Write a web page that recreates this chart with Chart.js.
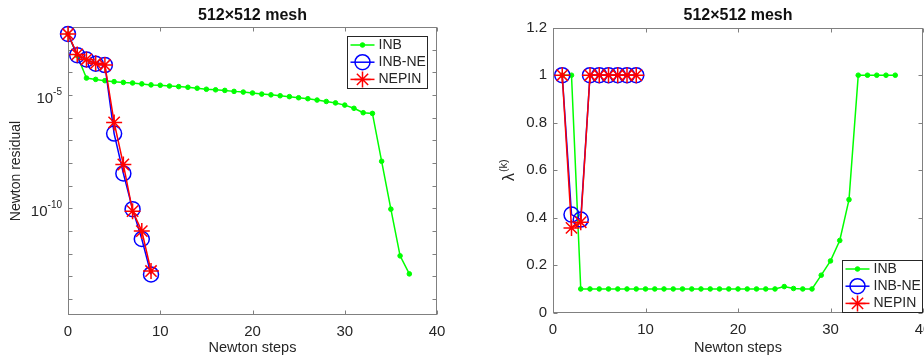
<!DOCTYPE html>
<html>
<head>
<meta charset="utf-8">
<script src="https://cdn.jsdelivr.net/npm/chart.js@4.4.1/dist/chart.umd.min.js"></script>
<style>
  html, body { margin: 0; padding: 0; background: #fff; overflow: hidden; width: 924px; height: 360px; }
  #left { position: absolute; left: 0; top: 0; }
  #right { position: absolute; left: 462px; top: 0; }
</style>
</head>
<body>
<canvas id="left" width="462" height="360"></canvas>
<canvas id="right" width="480" height="360"></canvas>
<script>
const TITLE = '512\u00d7512 mesh';
const LABELS = ['INB', 'INB-NE', 'NEPIN'];

// left panel: Newton residual (log scale)
const resStepsINB = [0, 1, 2, 3, 4, 5, 6, 7, 8, 9, 10, 11, 12, 13, 14, 15, 16, 17, 18, 19,
  20, 21, 22, 23, 24, 25, 26, 27, 28, 29, 30, 31, 32, 33, 34, 35, 36, 37];
const resINB = [4.9e-3, 5.5e-4, 5.6e-5, 4.9e-5, 4.3e-5, 3.9e-5, 3.6e-5, 3.4e-5, 3.1e-5, 2.8e-5,
  2.7e-5, 2.5e-5, 2.35e-5, 2.2e-5, 2.0e-5, 1.8e-5, 1.7e-5, 1.6e-5, 1.45e-5, 1.35e-5,
  1.23e-5, 1.1e-5, 1.02e-5, 9.3e-6, 8.5e-6, 7.6e-6, 6.9e-6, 6.0e-6, 5.2e-6, 4.5e-6,
  3.6e-6, 2.6e-6, 1.66e-6, 1.55e-6, 1.2e-8, 9.3e-11, 8.1e-13, 1.3e-13];
const resStepsNE = [0, 1, 2, 3, 4, 5, 6, 7, 8, 9];
const resINBNE = [4.9e-3, 5.75e-4, 3.7e-4, 2.4e-4, 2.1e-4, 2.0e-7, 3.5e-9, 9.3e-11, 4.5e-12, 1.23e-13];
const resNEPIN = [4.9e-3, 6.2e-4, 3.7e-4, 2.5e-4, 2.1e-4, 6.2e-7, 8.7e-9, 7.6e-11, 1.0e-11, 1.74e-13];

// right panel: damping factor lambda^(k)
const lamStepsINB = [1, 2, 3, 4, 5, 6, 7, 8, 9, 10, 11, 12, 13, 14, 15, 16, 17, 18, 19,
  20, 21, 22, 23, 24, 25, 26, 27, 28, 29, 30, 31, 32, 33, 34, 35, 36, 37];
const lamINB = [1, 1, 0.1, 0.1, 0.1, 0.1, 0.1, 0.1, 0.1, 0.1, 0.1, 0.1, 0.1, 0.1, 0.1, 0.1, 0.1, 0.1, 0.1,
  0.1, 0.1, 0.1, 0.1, 0.1, 0.11, 0.102, 0.1, 0.1, 0.158, 0.218, 0.304, 0.476, 1, 1, 1, 1, 1];
const lamStepsNE = [1, 2, 3, 4, 5, 6, 7, 8, 9];
const lamINBNE = [1, 0.413, 0.392, 1, 1, 1, 1, 1, 1];
const lamNEPIN = [1, 0.357, 0.381, 1, 1, 1, 1, 1, 1];

const xTicks = [0, 10, 20, 30, 40];
const resDecades = [-14, -13, -12, -11, -10, -9, -8, -7, -6, -5, -4, -3, -2];
const resLabeled = [-5, -10];
const lamTicks = [0, 0.2, 0.4, 0.6, 0.8, 1, 1.2];

const INK = '#262626';
const AXIS = '#808080';
const FONT = '"Liberation Sans", Arial, Helvetica, sans-serif';
Chart.defaults.font.family = FONT;
Chart.defaults.color = INK;

const styles = [
  {color: '#00ff00', pointStyle: 'circle', radius: 2.3, fill: true},
  {color: '#0000ff', pointStyle: 'circle', radius: 7.5, fill: false},
  {color: '#ff0000', pointStyle: 'star', radius: 8, fill: false},
];

function dataset(i, xs, ys) {
  const s = styles[i];
  return {
    label: LABELS[i],
    data: xs.map((x, k) => ({x: x, y: ys[k]})),
    borderColor: s.color,
    borderWidth: 1.5,
    pointStyle: s.pointStyle,
    pointRadius: s.radius,
    pointBackgroundColor: s.fill ? s.color : 'rgba(0,0,0,0)',
    pointBorderColor: s.color,
    pointBorderWidth: s.fill ? 1 : 1.5,
    order: 3 - i,
    clip: false,
    tension: 0
  };
}

// box round the axes with inward tick marks, like matlab
const axesBox = {
  id: 'axesBox',
  beforeDatasetsDraw(chart) {
    const {ctx, chartArea: a, scales: {x, y}} = chart;
    const L = Math.round(a.left) + 0.5, R = Math.round(a.right) - 0.5;
    const T = Math.round(a.top) + 0.5, B = Math.round(a.bottom) - 0.5;
    ctx.save();
    ctx.strokeStyle = AXIS;
    ctx.lineWidth = 1;
    ctx.strokeRect(L, T, R - L, B - T);
    ctx.beginPath();
    x.ticks.forEach(t => {
      const p = Math.round(x.getPixelForValue(t.value)) + 0.5;
      ctx.moveTo(p, B); ctx.lineTo(p, B - 4);
      ctx.moveTo(p, T); ctx.lineTo(p, T + 4);
    });
    y.ticks.forEach(t => {
      const p = Math.round(y.getPixelForValue(t.value)) + 0.5;
      ctx.moveTo(L, p); ctx.lineTo(L + 4, p);
      ctx.moveTo(R, p); ctx.lineTo(R - 4, p);
    });
    ctx.stroke();
    ctx.restore();
  }
};

// 10^-5 style labels with a real superscript
const decadeLabels = {
  id: 'decadeLabels',
  afterDraw(chart) {
    const {ctx, chartArea: a, scales: {y}} = chart;
    ctx.save();
    ctx.fillStyle = INK;
    ctx.textBaseline = 'middle';
    ctx.textAlign = 'right';
    resLabeled.forEach(e => {
      const p = y.getPixelForValue(Math.pow(10, e));
      const sup = String(e);
      const xe = a.left - 6;
      ctx.font = '10px ' + FONT;
      const sw = ctx.measureText(sup).width;
      ctx.fillText(sup, xe, p - 3);
      ctx.font = '15px ' + FONT;
      ctx.fillText('10', xe - sw, p + 3.5);
    });
    ctx.restore();
  }
};

const lambdaLabel = {
  id: 'lambdaLabel',
  afterDraw(chart) {
    const {ctx, chartArea: a} = chart;
    ctx.save();
    ctx.translate(46, (a.top + a.bottom) / 2);
    ctx.rotate(-Math.PI / 2);
    ctx.fillStyle = INK;
    ctx.textBaseline = 'middle';
    ctx.textAlign = 'left';
    ctx.font = '16px ' + FONT;
    const w1 = ctx.measureText('\u03bb').width;
    ctx.font = '11px ' + FONT;
    const w2 = ctx.measureText('(k)').width;
    const x0 = -(w1 + w2 + 1) / 2;
    ctx.font = '16px ' + FONT;
    ctx.fillText('\u03bb', x0, 2);
    ctx.font = '11px ' + FONT;
    ctx.fillText('(k)', x0 + w1 + 1, -4);
    ctx.restore();
  }
};

function titlePlugin() {
  return {
    id: 'mtitle',
    afterDraw(chart) {
      const {ctx, chartArea: a} = chart;
      ctx.save();
      ctx.font = 'bold 16px ' + FONT;
      ctx.fillStyle = '#111';
      ctx.textAlign = 'center';
      ctx.textBaseline = 'middle';
      ctx.fillText(TITLE, (a.left + a.right) / 2, 15.5);
      ctx.restore();
    }
  };
}

function legendPlugin(place) {
  return {
    id: 'mlegend',
    afterDraw(chart) {
      const {ctx, chartArea: a} = chart;
      const w = 81, h = 53;
      const bx = Math.round(place === 'ne' ? a.right - 9 - w : a.right - w);
      const by = Math.round(place === 'ne' ? a.top + 9 : a.bottom - h);
      ctx.save();
      ctx.fillStyle = '#fff';
      ctx.fillRect(bx, by, w, h);
      ctx.strokeStyle = INK;
      ctx.lineWidth = 1;
      ctx.strokeRect(bx + 0.5, by + 0.5, w - 1, h - 1);
      chart.data.datasets.forEach((ds, i) => {
        const yy = by + 9 + i * 17.2;
        ctx.strokeStyle = ds.borderColor;
        ctx.lineWidth = ds.borderWidth;
        ctx.beginPath();
        ctx.moveTo(bx + 3.5, yy);
        ctx.lineTo(bx + 27.5, yy);
        ctx.stroke();
        ctx.fillStyle = ds.pointBackgroundColor;
        ctx.lineWidth = ds.pointBorderWidth;
        Chart.helpers.drawPoint(ctx, {
          pointStyle: ds.pointStyle, radius: ds.pointRadius,
          borderWidth: ds.pointBorderWidth, rotation: 0
        }, bx + 15.5, yy);
        ctx.fillStyle = INK;
        ctx.font = '14px ' + FONT;
        ctx.textBaseline = 'middle';
        ctx.textAlign = 'left';
        ctx.fillText(ds.label, bx + 31.5, yy);
      });
      ctx.restore();
    }
  };
}

function xScale(height) {
  return {
    type: 'linear', min: 0, max: 40,
    afterBuildTicks: s => { s.ticks = xTicks.map(v => ({value: v})); },
    afterFit: s => { s.height = height; },
    grid: {display: false, drawTicks: false},
    border: {display: false},
    ticks: {font: {size: 15}, color: INK, padding: 8, maxRotation: 0, autoSkip: false},
    title: {display: true, text: 'Newton steps', font: {size: 14.5}, color: INK, padding: {top: 0, bottom: 3}}
  };
}

new Chart(document.getElementById('left'), {
  type: 'line',
  data: {
    datasets: [
      dataset(0, resStepsINB, resINB),
      dataset(1, resStepsNE, resINBNE),
      dataset(2, resStepsNE, resNEPIN)
    ]
  },
  options: {
    responsive: false, animation: false, events: [],
    layout: {padding: {top: 27, right: 25, bottom: 0, left: 0}},
    plugins: {legend: {display: false}, tooltip: {enabled: false}},
    scales: {
      x: xScale(45),
      y: {
        type: 'logarithmic', min: 2e-15, max: 1e-2,
        afterBuildTicks: s => { s.ticks = resDecades.map(e => ({value: Math.pow(10, e)})); },
        afterFit: s => { s.width = 68; },
        grid: {display: false, drawTicks: false},
        border: {display: false},
        ticks: {callback: () => '', autoSkip: false},
        title: {display: true, text: 'Newton residual', font: {size: 14}, color: INK, padding: {top: 8, bottom: 0}}
      }
    }
  },
  plugins: [axesBox, decadeLabels, titlePlugin(), legendPlugin('ne')]
});

new Chart(document.getElementById('right'), {
  type: 'line',
  data: {
    datasets: [
      dataset(0, lamStepsINB, lamINB),
      dataset(1, lamStepsNE, lamINBNE),
      dataset(2, lamStepsNE, lamNEPIN)
    ]
  },
  options: {
    responsive: false, animation: false, events: [],
    layout: {padding: {top: 27.7, right: 19, bottom: 0, left: 0}},
    plugins: {legend: {display: false}, tooltip: {enabled: false}},
    scales: {
      x: xScale(47.3),
      y: {
        type: 'linear', min: 0, max: 1.2,
        afterBuildTicks: s => { s.ticks = lamTicks.map(v => ({value: v})); },
        afterFit: s => { s.width = 91; },
        grid: {display: false, drawTicks: false},
        border: {display: false},
        ticks: {font: {size: 15}, color: INK, padding: 6, autoSkip: false,
          callback: v => String(Number(v.toFixed(1)))},
        title: {display: false}
      }
    }
  },
  plugins: [axesBox, lambdaLabel, titlePlugin(), legendPlugin('se')]
});
</script>
</body>
</html>
